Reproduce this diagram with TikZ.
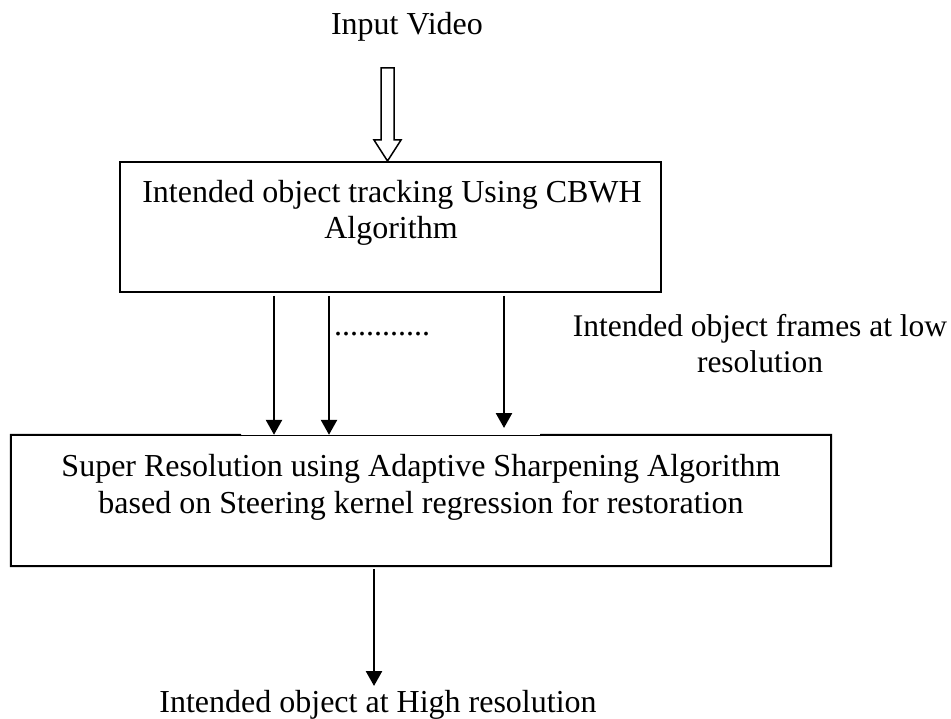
\documentclass[tikz,border=0pt]{standalone}
\usepackage{fontspec}
\setmainfont{Liberation Serif}
\usetikzlibrary{arrows.meta}
\begin{document}
\begin{tikzpicture}[x=1pt,y=-1pt,
  txt/.style={font=\fontsize{32}{37}\selectfont, inner sep=0pt, anchor=base},
  boxshape/.style={draw=none, inner sep=0pt, minimum width=#1},
  edge/.style={line width=2pt},
  thinedge/.style={line width=1pt},
  arr/.style={line width=2.6pt, -{Triangle[width=16pt,length=15pt]}}]
\useasboundingbox (0,0) rectangle (951,719);
% top box
\node[draw, line width=2pt, inner sep=0pt, minimum width=541pt, minimum height=130pt] (track) at (390.5,227) {};
\node[txt] (t1) at (392,203) {Intended object tracking Using CBWH};
\node[txt] (t2) at (391,239) {Algorithm};
% input
\node[txt] (inp) at (407,35) {Input Video};
\coordinate (hs) at (387.5,68);
\draw[line width=1.5pt, line join=miter] (381,68) -- (394,68) -- (394,140) -- (401,140) -- (track.north -| hs) -- (374,140) -- (381,140) -- cycle;
% bottom box
\node[boxshape=820pt, minimum height=131pt] (sr) at (421,500.5) {};
\coordinate (gl) at (241,435);
\coordinate (gr) at (540,435);
\draw[edge] (gl) -- (sr.north west) -- (sr.south west) -- (sr.south east) -- (sr.north east) -- (gr);
\draw[thinedge] (gl) -- (gr);
\node[txt] (s1) at (421,476) {Super Resolution using Adaptive Sharpening Algorithm};
\node[txt] (s2) at (421,513) {based on Steering kernel regression for restoration};
% arrows between
\coordinate (a1s) at (274,296);
\coordinate (a2s) at (329,296);
\coordinate (a3s) at (504,296);
\coordinate (a3e) at (504,428);
\draw[arr] (a1s) -- (a1s |- sr.north);
\draw[arr] (a2s) -- (a2s |- sr.north);
\draw[arr] (a3s) -- (a3e);
\node[txt, anchor=base west] (dots) at (334,336) {............};
\node[font=\fontsize{31.5}{37}\selectfont, inner sep=0pt, anchor=base] (lab1) at (760,337) {Intended object frames at low};
\node[font=\fontsize{31.5}{37}\selectfont, inner sep=0pt, anchor=base] (lab2) at (760,373) {resolution};
% output
\coordinate (os) at (374,569);
\coordinate (oe) at (374,686);
\draw[arr] (os) -- (oe);
\node[txt] (out) at (378,712) {Intended object at High resolution};
\end{tikzpicture}
\end{document}
